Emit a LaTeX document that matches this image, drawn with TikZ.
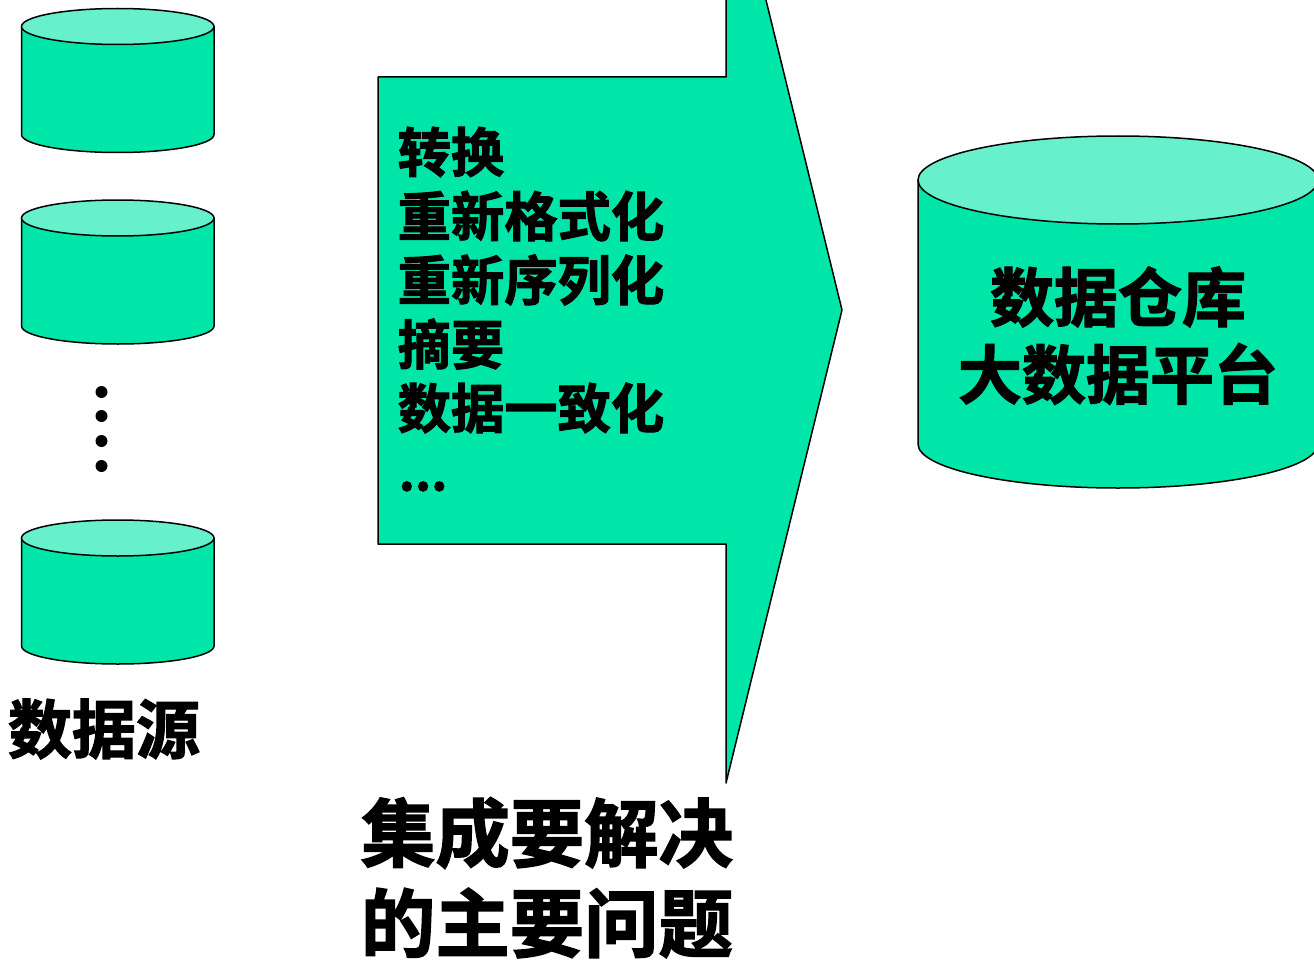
\documentclass[tikz,border=0pt]{standalone}
\usepackage{fontspec}
\setmainfont{Noto Sans CJK SC}[BoldFont=Noto Sans CJK SC Bold,BoldFeatures={FakeBold=2}]
\definecolor{body}{HTML}{00E6A9}
\definecolor{lid}{HTML}{66F0CC}
\tikzset{
  shapeline/.style={draw=black,line width=1.5pt,line join=round},
  lbl/.style={inner sep=0pt,font=\bfseries\fontsize{#1}{#1}\selectfont,text=black},
  db/.pic={
    \path[shapeline,fill=body] (-\rx,0) -- (-\rx,\hh) arc[start angle=180,end angle=0,x radius=\rx,y radius=\ry] -- (\rx,0) -- cycle;
    \path[shapeline,fill=lid] (0,0) ellipse[x radius=\rx,y radius=\ry];
  }
}
\newcommand{\rx}{96.25}
\newcommand{\ry}{18}
\newcommand{\hh}{108}
\begin{document}
\begin{tikzpicture}[x=1pt,y=-1pt]
\useasboundingbox (0,0) rectangle (1314,963);
\clip (0,0) rectangle (1314,963);
% sources
\pic at (117.75,26.5) {db};
\pic at (117.75,218) {db};
\pic at (117.75,538) {db};
\foreach \yy [count=\i] in {392,416,441,466}
  \node[circle,fill=black,inner sep=0pt,minimum size=12pt] (dot\i) at (101.5,\yy) {};
\node[lbl=64,anchor=center] (src) at (104,729) {数据源};
% arrow
\draw[shapeline,fill=body] (378,77) -- (726,77) -- (726,-163) -- (842,310) -- (726,783) -- (726,544) -- (378,544) -- cycle;
\foreach \txt/\yy/\nm in {转换/152/a,重新格式化/216/b,重新序列化/280/c,摘要/344/d,数据一致化/408/e}
  \node[lbl=53.3,anchor=west] (\nm) at (397.5,\yy) {\txt};
\node[inner sep=0pt,anchor=base west,font=\bfseries\fontsize{50}{50}\selectfont] (f) at (398.5,490.5) {...};
% warehouse
\renewcommand{\rx}{200}\renewcommand{\ry}{44}\renewcommand{\hh}{264}
\pic at (1118,180) {db};
\node[lbl=64] (w1) at (1118,297) {数据仓库};
\node[lbl=64] (w2) at (1118,374) {大数据平台};
% caption
\node[lbl=74.4] (c1) at (547,833) {集成要解决};
\node[lbl=74.4] (c2) at (547,923) {的主要问题};
\end{tikzpicture}
\end{document}
